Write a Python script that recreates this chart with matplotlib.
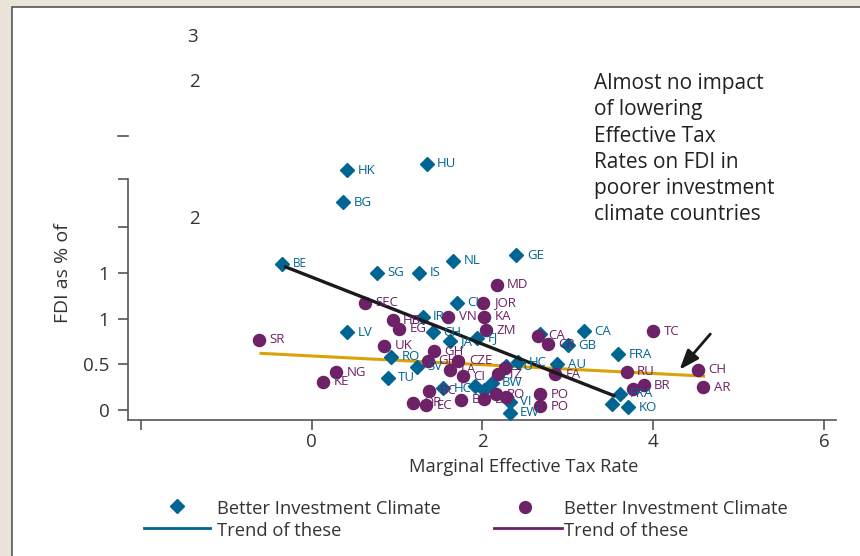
import matplotlib
matplotlib.use("Agg")
import matplotlib.pyplot as plt
from matplotlib.patches import Rectangle
from matplotlib.lines import Line2D

plt.rcParams['font.family'] = ['Open Sans', 'DejaVu Sans']

# ---- data ----
better_labels = ["HK", "HU", "BG", "BE", "SG", "IS", "NL", "GE", "CI", "IR", "CH", "LV",
                 "JA", "FJ", "RO", "SV", "TU", "TU", "HC", "AU", "HC", "", "", "BW",
                 "VI", "EW", "", "GB", "CA", "FRA", "FRA", "", "KO"]
better_x = [0.42, 1.35, 0.37, -0.34, 0.77, 1.26, 1.66, 2.40, 1.70, 1.30, 1.42, 0.42,
            1.62, 1.94, 0.93, 1.23, 0.89, 2.28, 2.42, 2.88, 1.54, 1.91, 2.02, 2.11,
            2.32, 2.32, 2.68, 3.00, 3.19, 3.59, 3.61, 3.52, 3.71]
better_y = [2.62, 2.69, 2.27, 1.60, 1.50, 1.50, 1.63, 1.69, 1.17, 1.02, 0.85, 0.85,
            0.75, 0.79, 0.58, 0.47, 0.35, 0.48, 0.52, 0.50, 0.24, 0.26, 0.22, 0.30,
            0.09, -0.03, 0.83, 0.71, 0.86, 0.61, 0.18, 0.07, 0.03]

poorer_labels = ["MD", "SEC", "JOR", "HB", "VN", "KA", "EG", "ZM", "SR", "UK", "GH", "GH",
                 "CZE", "LA", "CI", "NG", "KE", "TZ", "", "BC", "OR", "EC", "B", "DC",
                 "RO", "", "PO", "PO", "CA", "CR", "TC", "FA", "RU", "CH", "AR", "BR", ""]
poorer_x = [2.17, 0.63, 2.01, 0.95, 1.60, 2.02, 1.03, 2.04, -0.61, 0.85, 1.43, 1.36,
            1.72, 1.62, 1.77, 0.29, 0.14, 2.18, 2.27, 1.38, 1.19, 1.34, 1.75, 2.02,
            2.16, 2.28, 2.68, 2.68, 2.65, 2.77, 4.00, 2.85, 3.69, 4.52, 4.59, 3.89, 3.76]
poorer_y = [1.37, 1.17, 1.17, 0.98, 1.02, 1.02, 0.89, 0.87, 0.77, 0.70, 0.64, 0.54,
            0.54, 0.44, 0.37, 0.41, 0.31, 0.39, 0.455, 0.21, 0.08, 0.05, 0.11, 0.12,
            0.17, 0.145, 0.17, 0.04, 0.81, 0.72, 0.86, 0.39, 0.42, 0.44, 0.25, 0.27, 0.23]

trend_better_x = [-0.32, 3.56]
trend_better_y = [1.57, 0.15]
trend_poorer_x = [-0.61, 4.61]
trend_poorer_y = [0.62, 0.37]

y_ticks = [0, 0.5, 1.0, 1.5, 2.0, 2.525]
y_ticklabels = ["0", "0.5", "1", "1", "", ""]
x_ticks = [-2, 0, 2, 4, 6]
x_ticklabels = ["", "0", "2", "4", "6"]

BLUE = "#006593"
PURPLE = "#6d2166"
GOLD = "#d9a308"
BEIGE = "#ebe4da"
TXT = "#333333"

W, H = 860, 556
fig = plt.figure(figsize=(W / 100, H / 100), dpi=100, facecolor=BEIGE)

# white panel
fig.patches.append(Rectangle((12 / W, -0.05), 1.2, 1 - 7 / H + 0.05,
                             transform=fig.transFigure, facecolor="white",
                             edgecolor="#555555", lw=1.2, zorder=-5))

# axes geometry (pixel based)
x0px, ux = 311.5, 85.4
y0px, uy = 410.0, 91.5
left_px, right_px = 128, 836
bot_px, top_px = 420, 140
xmin = (left_px - x0px) / ux
xmax = (right_px - x0px) / ux
ymin = (y0px - bot_px) / uy
ymax = (y0px - top_px) / uy
ax = fig.add_axes([left_px / W, 1 - bot_px / H, (right_px - left_px) / W, (bot_px - top_px) / H])
ax.set_facecolor("none")
ax.set_xlim(xmin, xmax)
ax.set_ylim(ymin, ymax)

for s in ["top", "right"]:
    ax.spines[s].set_visible(False)
for s in ["left", "bottom"]:
    ax.spines[s].set_color("#555555")
    ax.spines[s].set_linewidth(1.2)
ax.spines["left"].set_bounds(ymin, 2.525)

ax.set_yticks(y_ticks)
ax.set_yticklabels(y_ticklabels)
ax.set_xticks(x_ticks)
ax.set_xticklabels(x_ticklabels)
ax.tick_params(axis="both", direction="out", length=7.5, width=1.2, color="#555555",
               labelsize=13.5, labelcolor=TXT)
ax.tick_params(axis="y", pad=6)
ax.tick_params(axis="x", pad=2)

# trend lines
ax.plot(trend_poorer_x, trend_poorer_y, color=GOLD, lw=2.2, zorder=2, solid_capstyle="butt")
ax.plot(trend_better_x, trend_better_y, color="#1a1a1a", lw=2.4, zorder=4, solid_capstyle="butt")

# points
ax.plot(better_x, better_y, linestyle="none", marker="D", ms=7.6, color=BLUE, zorder=3)
ax.plot(poorer_x, poorer_y, linestyle="none", marker="o", ms=8.7, color=PURPLE, zorder=3)

for lab, x, y in zip(better_labels, better_x, better_y):
    if lab:
        ax.annotate(lab, (x, y), xytext=(7.5, 0), textcoords="offset points",
                    fontsize=9.5 if lab != "BE" else 8.5, color=BLUE, va="center", ha="left", zorder=5)
for lab, x, y in zip(poorer_labels, poorer_x, poorer_y):
    if lab:
        ax.annotate(lab, (x, y), xytext=(7.5, 0), textcoords="offset points",
                    fontsize=9.5, color=PURPLE, va="center", ha="left", zorder=5)

# arrow
ax.annotate("", xy=(4.31, 0.44), xytext=(4.67, 0.83),
            arrowprops=dict(arrowstyle="-|>,head_length=1.2,head_width=0.45",
                            color="#1a1a1a", lw=2.0, shrinkA=0, shrinkB=0), zorder=6)

# annotation text
fig.text(594 / W, 1 - 73 / H,
         "Almost no impact\nof lowering\nEffective Tax\nRates on FDI in\npoorer investment\nclimate countries",
         fontsize=15, color="#222222", va="top", ha="left", linespacing=1.33)

# axis labels
fig.text(63 / W, 1 - 273 / H, "FDI as % of", rotation=90, fontsize=14, color=TXT,
         ha="center", va="center")
fig.text(524 / W, 1 - 467 / H, "Marginal Effective Tax Rate", fontsize=13.2, color=TXT,
         ha="center", va="center")

# stray labels
for s, px, py in [("3", 193, 37), ("2", 194, 82), ("2", 194, 219)]:
    fig.text(px / W, 1 - py / H, s, fontsize=13.5, color=TXT, ha="center", va="center")
fig.add_artist(Line2D([118 / W, 128 / W], [1 - 136 / H, 1 - 136 / H], transform=fig.transFigure,
                      color="#555555", lw=1.2))

# legend (manual)
fig.add_artist(Line2D([177 / W], [1 - 506 / H], transform=fig.transFigure, marker="D",
                      ms=7.5, color=BLUE, linestyle="none"))
fig.add_artist(Line2D([144 / W, 210 / W], [1 - 528 / H, 1 - 528 / H], transform=fig.transFigure,
                      color=BLUE, lw=2))
fig.text(217 / W, 1 - 509 / H, "Better Investment Climate", fontsize=13.2, color=TXT,
         ha="left", va="center")
fig.text(217 / W, 1 - 531 / H, "Trend of these", fontsize=13.2, color=TXT, ha="left", va="center")

fig.add_artist(Line2D([525 / W], [1 - 507 / H], transform=fig.transFigure, marker="o",
                      ms=8.5, color=PURPLE, linestyle="none"))
fig.add_artist(Line2D([494 / W, 562 / W], [1 - 528 / H, 1 - 528 / H], transform=fig.transFigure,
                      color=PURPLE, lw=2))
fig.text(564 / W, 1 - 509 / H, "Better Investment Climate", fontsize=13.2, color=TXT,
         ha="left", va="center")
fig.text(564 / W, 1 - 531 / H, "Trend of these", fontsize=13.2, color=TXT, ha="left", va="center")

fig.savefig("out.png", dpi=100, facecolor=BEIGE)
